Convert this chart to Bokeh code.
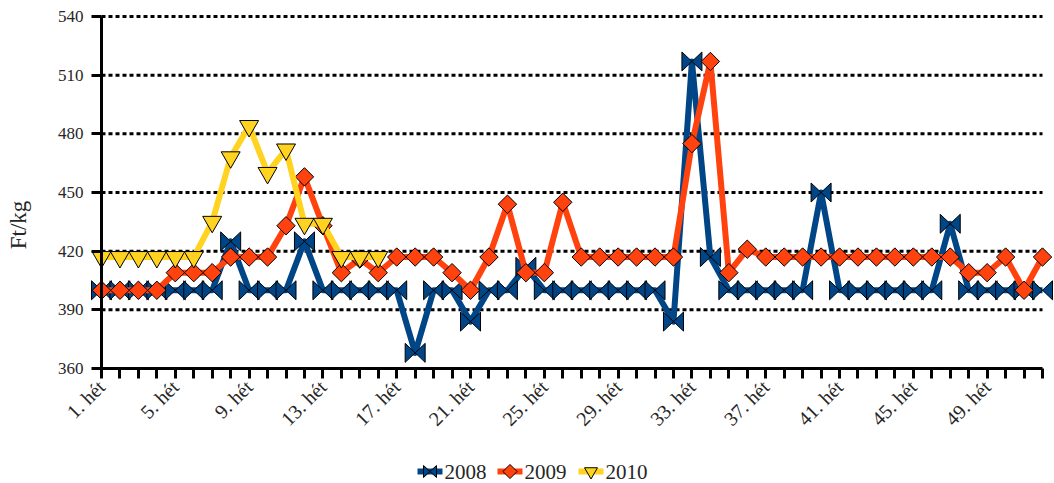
import math
from bokeh.plotting import figure
from bokeh.models import Range1d, FixedTicker, ColumnDataSource, Label
from bokeh.core.properties import value
from bokeh.embed import file_html
from bokeh.resources import INLINE

# ---------------- data ----------------
weeks = list(range(1, 53))
label_weeks = [1, 5, 9, 13, 17, 21, 25, 29, 33, 37, 41, 45, 49]
x_labels = ["1. hét", "5. hét", "9. hét", "13. hét", "17. hét", "21. hét", "25. hét",
            "29. hét", "33. hét", "37. hét", "41. hét", "45. hét", "49. hét"]
y_ticks = [360, 390, 420, 450, 480, 510, 540]
y_title = "Ft/kg"
series_names = ["2008", "2009", "2010"]

s2008 = [400, 400, 400, 400, 400, 400, 400, 425, 400, 400,
         400, 425, 400, 400, 400, 400, 400, 368, 400, 400,
         384, 400, 400, 412, 400, 400, 400, 400, 400, 400,
         400, 384, 517, 417, 400, 400, 400, 400, 400, 450,
         400, 400, 400, 400, 400, 400, 434, 400, 400, 400,
         400, 400]
s2009 = [400, 400, 400, 400, 409, 409, 409, 417, 417, 417,
         433, 458, 433, 409, 416, 409, 417, 417, 417, 409,
         400, 417, 444, 409, 409, 445, 417, 417, 417, 417,
         417, 417, 475, 517, 409, 421, 417, 417, 417, 417,
         417, 417, 417, 417, 417, 417, 417, 409, 409, 417,
         400, 417]
s2010 = [417, 417, 417, 417, 417, 417, 435, 468, 484, 460,
         472, 434, 434, 417, 417, 417]

colors = ["#004586", "#ff420e", "#ffd320"]

# ---------------- styling / geometry (pixels) ----------------
FONT = "Liberation Serif"
TXT = "#262626"
W, H = 1054, 483
AXIS_X_PX, TOP_PX = 101, 16        # page position of week 1 and of the top tick
PX_WEEK = 941 / 51
PX_Y = 352 / 180
x_start = weeks[0] - AXIS_X_PX / PX_WEEK
x_end = x_start + W / PX_WEEK
y_top = y_ticks[-1] + TOP_PX / PX_Y
y_bottom = y_top - H / PX_Y


def X(px):
    return x_start + px / PX_WEEK


def Y(py):
    return y_top - py / PX_Y


def bowtie(xs, ys, hw, hh):
    px, py = [], []
    for x, y in zip(xs, ys):
        px.append([x - hw, x - hw, x + hw, x + hw])
        py.append([y - hh, y + hh, y - hh, y + hh])
    return px, py


p = figure(frame_width=W, frame_height=H,
           x_range=Range1d(x_start, x_end), y_range=Range1d(y_bottom, y_top),
           toolbar_location=None, output_backend="svg", min_border=0)
p.outline_line_color = None
p.grid.visible = False
p.background_fill_color = "white"
p.border_fill_color = "white"

# dotted horizontal gridlines
grid_vals = y_ticks[1:]
p.segment(x0=[weeks[0]] * len(grid_vals), x1=[weeks[-1]] * len(grid_vals),
          y0=grid_vals, y1=grid_vals, line_color="black", line_width=3, line_dash="4 3")

# axes, pinned at week 1 / value 360
xa = p.xaxis[0]
xa.fixed_location = y_ticks[0]
xa.ticker = FixedTicker(ticks=weeks)
xa.major_label_overrides = {w: (x_labels[label_weeks.index(w)] if w in label_weeks else "")
                            for w in weeks}
xa.bounds = (weeks[0], weeks[-1])
xa.axis_line_width = 3
xa.axis_line_color = "black"
xa.major_tick_line_width = 3
xa.major_tick_out = 10
xa.major_tick_in = 0
xa.minor_tick_line_color = None
xa.major_label_orientation = math.pi / 4
xa.major_label_text_font = FONT
xa.major_label_text_font_size = "20px"
xa.major_label_text_color = TXT
xa.major_label_standoff = 5

ya = p.yaxis[0]
ya.fixed_location = weeks[0]
ya.ticker = FixedTicker(ticks=y_ticks)
ya.bounds = (y_ticks[0], y_ticks[-1])
ya.axis_line_width = 3
ya.axis_line_color = "black"
ya.major_tick_line_width = 3
ya.major_tick_out = 10
ya.major_tick_in = 0
ya.minor_tick_line_color = None
ya.major_label_text_font = FONT
ya.major_label_text_font_size = "17px"
ya.major_label_text_color = TXT
ya.major_label_standoff = 8

# y-axis title
p.add_layout(Label(x=X(18), y=Y(224.5), text=y_title, angle=math.pi / 2,
                   text_align="center", text_baseline="middle", text_font=FONT,
                   text_font_size="23px", text_color=TXT))

# 2008
src08 = ColumnDataSource(dict(x=weeks[:len(s2008)], y=s2008))
p.line("x", "y", source=src08, line_color=colors[0], line_width=6, line_join="round")
bx, by = bowtie(weeks[:len(s2008)], s2008, 10 / PX_WEEK, 9.5 / PX_Y)
p.patches(bx, by, fill_color=colors[0], line_color="black", line_width=1)

# 2009
src09 = ColumnDataSource(dict(x=weeks[:len(s2009)], y=s2009))
p.line("x", "y", source=src09, line_color=colors[1], line_width=6, line_join="round")
p.scatter("x", "y", source=src09, marker="square", angle=math.pi / 4, size=13,
          fill_color=colors[1], line_color="black", line_width=1)

# 2010
src10 = ColumnDataSource(dict(x=weeks[:len(s2010)], y=s2010))
p.line("x", "y", source=src10, line_color=colors[2], line_width=6, line_join="round")
p.scatter("x", "y", source=src10, marker="inverted_triangle", size=19,
          fill_color=colors[2], line_color="black", line_width=1)

# ---------------- legend (below the axis labels) ----------------
leg_px0 = [417, 497, 578]
leg_len = 25
leg_py = 471
ly = Y(leg_py)
for i in range(3):
    p.line([X(leg_px0[i]), X(leg_px0[i] + leg_len)], [ly, ly],
           line_color=colors[i], line_width=6)
lbx, lby = bowtie([X(leg_px0[0] + leg_len / 2)], [ly], 6.5 / PX_WEEK, 6 / PX_Y)
p.patches(lbx, lby, fill_color=colors[0], line_color="black", line_width=1)
p.scatter([X(leg_px0[1] + leg_len / 2)], [ly], marker="square", angle=math.pi / 4, size=10,
          fill_color=colors[1], line_color="black", line_width=1)
p.scatter([X(leg_px0[2] + leg_len / 2)], [ly], marker="inverted_triangle", size=13,
          fill_color=colors[2], line_color="black", line_width=1)
p.text(x=[X(x + leg_len + 2) for x in leg_px0], y=[ly] * 3, text=series_names,
       text_font=value(FONT), text_font_size="21px", text_baseline="middle",
       text_align="left", text_color=TXT)

open("out.html", "w").write(file_html(p, INLINE))
